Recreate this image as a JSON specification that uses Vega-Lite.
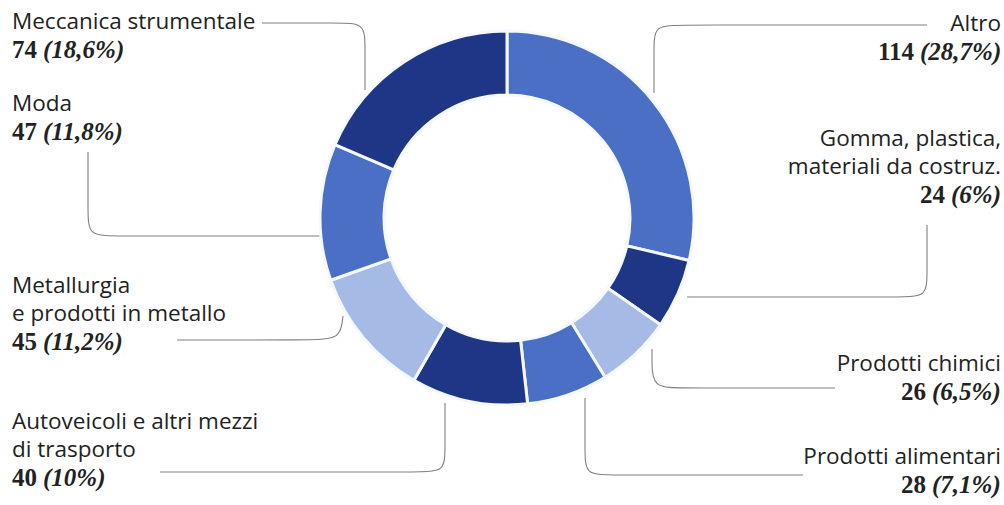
{
  "$schema": "https://vega.github.io/schema/vega-lite/v6.json",
  "width": 1004,
  "height": 505,
  "autosize": {"type": "none"},
  "padding": 0,
  "background": "white",
  "config": {"view": {"stroke": null}},
  "datasets": {
    "slices": [
      {"idx": 1, "sector": "Altro", "count": 114, "tone": "medium"},
      {"idx": 2, "sector": "Gomma, plastica, materiali da costruz.", "count": 24, "tone": "dark"},
      {"idx": 3, "sector": "Prodotti chimici", "count": 26, "tone": "light"},
      {"idx": 4, "sector": "Prodotti alimentari", "count": 28, "tone": "medium"},
      {"idx": 5, "sector": "Autoveicoli e altri mezzi di trasporto", "count": 40, "tone": "dark"},
      {"idx": 6, "sector": "Metallurgia e prodotti in metallo", "count": 45, "tone": "light"},
      {"idx": 7, "sector": "Moda", "count": 47, "tone": "medium"},
      {"idx": 8, "sector": "Meccanica strumentale", "count": 74, "tone": "dark"}
    ],
    "labels": [
      {"side": "left", "upper": "", "lower": "Meccanica strumentale", "num": "74", "pct": "(18,6%)", "x": 12, "vx": 43, "y": 58},
      {"side": "left", "upper": "", "lower": "Moda", "num": "47", "pct": "(11,8%)", "x": 12, "vx": 43, "y": 140},
      {"side": "left", "upper": "Metallurgia", "lower": "e prodotti in metallo", "num": "45", "pct": "(11,2%)", "x": 12, "vx": 43, "y": 350},
      {"side": "left", "upper": "Autoveicoli e altri mezzi", "lower": "di trasporto", "num": "40", "pct": "(10%)", "x": 12, "vx": 43, "y": 486},
      {"side": "right", "upper": "", "lower": "Altro", "num": "114", "pct": "(28,7%)", "x": 1001, "vx": 920, "y": 60},
      {"side": "right", "upper": "Gomma, plastica,", "lower": "materiali da costruz.", "num": "24", "pct": "(6%)", "x": 1001, "vx": 951, "y": 203},
      {"side": "right", "upper": "", "lower": "Prodotti chimici", "num": "26", "pct": "(6,5%)", "x": 1001, "vx": 932, "y": 400},
      {"side": "right", "upper": "", "lower": "Prodotti alimentari", "num": "28", "pct": "(7,1%)", "x": 1001, "vx": 932, "y": 493}
    ],
    "leaders": [
      {"id": "mecc", "k": 1, "x": 262, "y": 23},
      {"id": "mecc", "k": 2, "x": 340, "y": 23},
      {"id": "mecc", "k": 3, "x": 365, "y": 23},
      {"id": "mecc", "k": 4, "x": 365, "y": 48},
      {"id": "mecc", "k": 5, "x": 365, "y": 90},
      {"id": "moda", "k": 1, "x": 88, "y": 152},
      {"id": "moda", "k": 2, "x": 88, "y": 210},
      {"id": "moda", "k": 3, "x": 88, "y": 236},
      {"id": "moda", "k": 4, "x": 114, "y": 236},
      {"id": "moda", "k": 5, "x": 320, "y": 236},
      {"id": "meta", "k": 1, "x": 177, "y": 340},
      {"id": "meta", "k": 2, "x": 310, "y": 340},
      {"id": "meta", "k": 3, "x": 338, "y": 339},
      {"id": "meta", "k": 4, "x": 342, "y": 325},
      {"id": "meta", "k": 5, "x": 343, "y": 316},
      {"id": "auto", "k": 1, "x": 160, "y": 472},
      {"id": "auto", "k": 2, "x": 420, "y": 472},
      {"id": "auto", "k": 3, "x": 445, "y": 472},
      {"id": "auto", "k": 4, "x": 445, "y": 447},
      {"id": "auto", "k": 5, "x": 445, "y": 403},
      {"id": "alim", "k": 1, "x": 585, "y": 398},
      {"id": "alim", "k": 2, "x": 585, "y": 450},
      {"id": "alim", "k": 3, "x": 585, "y": 475},
      {"id": "alim", "k": 4, "x": 610, "y": 475},
      {"id": "alim", "k": 5, "x": 803, "y": 475},
      {"id": "chim", "k": 1, "x": 652, "y": 349},
      {"id": "chim", "k": 2, "x": 652, "y": 360},
      {"id": "chim", "k": 3, "x": 652, "y": 388},
      {"id": "chim", "k": 4, "x": 682, "y": 388},
      {"id": "chim", "k": 5, "x": 835, "y": 388},
      {"id": "gomm", "k": 1, "x": 687, "y": 297},
      {"id": "gomm", "k": 2, "x": 902, "y": 297},
      {"id": "gomm", "k": 3, "x": 927, "y": 297},
      {"id": "gomm", "k": 4, "x": 927, "y": 272},
      {"id": "gomm", "k": 5, "x": 927, "y": 225},
      {"id": "altr", "k": 1, "x": 654, "y": 93},
      {"id": "altr", "k": 2, "x": 654, "y": 50},
      {"id": "altr", "k": 3, "x": 654, "y": 25},
      {"id": "altr", "k": 4, "x": 680, "y": 25},
      {"id": "altr", "k": 5, "x": 927, "y": 25}
    ]
  },
  "layer": [
    {
      "data": {"name": "leaders"},
      "mark": {"type": "line", "interpolate": "basis", "stroke": "#808080", "strokeWidth": 1.1},
      "encoding": {
        "x": {"field": "x", "type": "quantitative", "scale": {"domain": [0, 1004], "nice": false, "zero": false}, "axis": null},
        "y": {"field": "y", "type": "quantitative", "scale": {"domain": [0, 505], "nice": false, "zero": false, "reverse": true}, "axis": null},
        "detail": {"field": "id"},
        "order": {"field": "k"}
      }
    },
    {
      "data": {"name": "slices"},
      "mark": {"type": "arc", "outerRadius": 187, "innerRadius": 123, "stroke": "#f4f8ff", "strokeWidth": 3},
      "encoding": {
        "theta": {"field": "count", "type": "quantitative", "stack": true},
        "order": {"field": "idx"},
        "color": {"field": "tone", "type": "nominal", "scale": {"domain": ["dark", "medium", "light"], "range": ["#1f3586", "#4b6fc5", "#a5bbe6"]}, "legend": null},
        "x": {"datum": 507, "type": "quantitative"},
        "y": {"datum": 218, "type": "quantitative"},
        "tooltip": [{"field": "sector"}, {"field": "count"}]
      }
    },
    {
      "data": {"name": "labels"},
      "transform": [{"filter": "datum.side === 'left' && datum.upper !== ''"}],
      "mark": {"type": "text", "align": "left", "baseline": "alphabetic", "font": "Open Sans", "fontSize": 22.5, "color": "#222222", "dy": -57},
      "encoding": {
        "x": {"field": "x", "type": "quantitative"},
        "y": {"field": "y", "type": "quantitative"},
        "text": {"field": "upper"}
      }
    },
    {
      "data": {"name": "labels"},
      "transform": [{"filter": "datum.side === 'left'"}],
      "mark": {"type": "text", "align": "left", "baseline": "alphabetic", "font": "Open Sans", "fontSize": 22.5, "color": "#222222", "dy": -29},
      "encoding": {
        "x": {"field": "x", "type": "quantitative"},
        "y": {"field": "y", "type": "quantitative"},
        "text": {"field": "lower"}
      }
    },
    {
      "data": {"name": "labels"},
      "transform": [{"filter": "datum.side === 'right' && datum.upper !== ''"}],
      "mark": {"type": "text", "align": "right", "baseline": "alphabetic", "font": "Open Sans", "fontSize": 22.5, "color": "#222222", "dy": -57},
      "encoding": {
        "x": {"field": "x", "type": "quantitative"},
        "y": {"field": "y", "type": "quantitative"},
        "text": {"field": "upper"}
      }
    },
    {
      "data": {"name": "labels"},
      "transform": [{"filter": "datum.side === 'right'"}],
      "mark": {"type": "text", "align": "right", "baseline": "alphabetic", "font": "Open Sans", "fontSize": 22.5, "color": "#222222", "dy": -29},
      "encoding": {
        "x": {"field": "x", "type": "quantitative"},
        "y": {"field": "y", "type": "quantitative"},
        "text": {"field": "lower"}
      }
    },
    {
      "data": {"name": "labels"},
      "mark": {"type": "text", "align": "right", "baseline": "alphabetic", "font": "Liberation Serif", "fontWeight": "bold", "fontSize": 25, "color": "#222222", "dx": -6},
      "encoding": {
        "x": {"field": "vx", "type": "quantitative"},
        "y": {"field": "y", "type": "quantitative"},
        "text": {"field": "num"}
      }
    },
    {
      "data": {"name": "labels"},
      "mark": {"type": "text", "align": "left", "baseline": "alphabetic", "font": "Liberation Serif", "fontWeight": "bold", "fontStyle": "italic", "fontSize": 25, "color": "#222222"},
      "encoding": {
        "x": {"field": "vx", "type": "quantitative"},
        "y": {"field": "y", "type": "quantitative"},
        "text": {"field": "pct"}
      }
    }
  ]
}
